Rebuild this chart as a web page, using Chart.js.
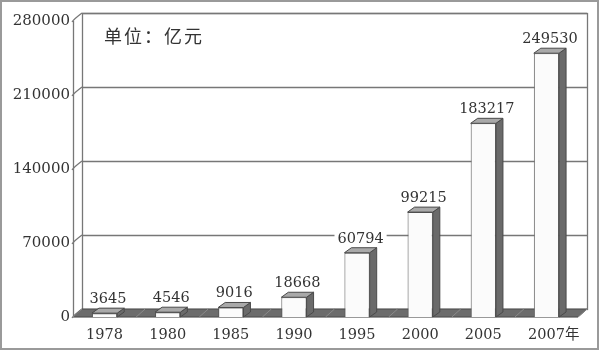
<!DOCTYPE html>
<html><head><meta charset="utf-8">
<script src="https://cdn.jsdelivr.net/npm/chart.js@4/dist/chart.umd.min.js"></script>
<style>html,body{margin:0;padding:0;background:#fff;} canvas{display:block;}</style>
</head><body>
<canvas id="c" width="600" height="351"></canvas>
<script>
const categories = ['1978','1980','1985','1990','1995','2000','2005','2007年'];
const values = [3645, 4546, 9016, 18668, 60794, 99215, 183217, 249530];
const yMin = 0, yMax = 280000, yStep = 70000;
const unitLabel = '单位：亿元';

const DX = 9, DY = 8;   // wall depth
const BX = 7, BY = 5;   // bar depth
const SERIF = "'DejaVu Serif', 'Noto Sans CJK SC', serif";
const TEXT = '#333';

const threeD = {
  id: 'threeD',
  beforeDraw(chart) {
    const ctx = chart.ctx;
    ctx.save();
    ctx.fillStyle = '#fff';
    ctx.fillRect(0, 0, chart.width, chart.height);
    ctx.strokeStyle = '#9a9a9a';
    ctx.lineWidth = 2;
    ctx.strokeRect(1, 1, chart.width - 3, chart.height - 3);
    ctx.restore();
  },
  beforeDatasetsDraw(chart) {
    const ctx = chart.ctx, a = chart.chartArea, ys = chart.scales.y, xs = chart.scales.x;
    const L = a.left, R = a.right, B = ys.getPixelForValue(yMin), T = ys.getPixelForValue(yMax);
    ctx.save();
    // back wall
    ctx.fillStyle = '#fff';
    ctx.strokeStyle = '#777';
    ctx.lineWidth = 1.3;
    ctx.fillRect(L + DX, T - DY, R - L, B - T);
    ctx.strokeRect(L + DX + 0.5, T - DY + 0.5, R - L, B - T);
    // left wall front edge
    ctx.beginPath();
    ctx.moveTo(L + 0.5, T); ctx.lineTo(L + 0.5, B);
    ctx.stroke();
    // grid lines
    for (let v = yMin + yStep; v <= yMax; v += yStep) {
      const yf = ys.getPixelForValue(v);
      const yb = Math.round(yf - DY) + 0.5;
      ctx.beginPath();
      ctx.moveTo(L + DX, yb); ctx.lineTo(R + DX, yb);
      ctx.stroke();
    }
    for (let v = yMin; v <= yMax; v += yStep) {
      const yf = ys.getPixelForValue(v);
      ctx.beginPath();
      ctx.moveTo(L - 1, yf + 1);
      ctx.quadraticCurveTo(L + 1, yf - 2, L + DX, yf - DY);
      ctx.stroke();
    }
    // floor
    ctx.beginPath();
    ctx.moveTo(L, B); ctx.lineTo(R, B); ctx.lineTo(R + DX, B - DY); ctx.lineTo(L + DX, B - DY);
    ctx.closePath();
    ctx.fillStyle = '#6c6c6c';
    ctx.fill();
    ctx.strokeStyle = '#4a4a4a';
    ctx.lineWidth = 1;
    ctx.stroke();
    ctx.beginPath();
    ctx.moveTo(L, B + 0.5); ctx.lineTo(R, B + 0.5);
    ctx.strokeStyle = '#999';
    ctx.stroke();
    // floor dividers at category boundaries
    ctx.strokeStyle = '#8a8a8a';
    for (let i = 0; i <= categories.length; i++) {
      const xb = (i === 0) ? L : (i === categories.length ? R : (xs.getPixelForValue(i - 1) + xs.getPixelForValue(i)) / 2);
      ctx.beginPath();
      ctx.moveTo(xb, B); ctx.lineTo(xb + DX, B - DY);
      ctx.stroke();
    }
    // unit label
    ctx.fillStyle = TEXT;
    ctx.font = "18px 'Noto Sans CJK SC'";
    try { ctx.letterSpacing = '2px'; } catch (e) {}
    ctx.textAlign = 'left';
    ctx.textBaseline = 'middle';
    ctx.fillText(unitLabel, 104, 36);
    try { ctx.letterSpacing = '0px'; } catch (e) {}
    ctx.restore();
  },
  afterDatasetsDraw(chart) {
    const ctx = chart.ctx, xs = chart.scales.x, ys = chart.scales.y;
    const meta = chart.getDatasetMeta(0);
    ctx.save();
    meta.data.forEach((bar, i) => {
      const x0 = bar.x - bar.width / 2, x1 = bar.x + bar.width / 2;
      const yt = bar.y, yb = bar.base;
      // side
      ctx.beginPath();
      ctx.moveTo(x1, yt); ctx.lineTo(x1 + BX, yt - BY); ctx.lineTo(x1 + BX, yb - BY); ctx.lineTo(x1, yb);
      ctx.closePath();
      ctx.fillStyle = '#6a6a6a';
      ctx.fill();
      ctx.strokeStyle = '#4a4a4a';
      ctx.lineWidth = 1;
      ctx.stroke();
      // top
      ctx.beginPath();
      ctx.moveTo(x0, yt); ctx.lineTo(x0 + BX, yt - BY); ctx.lineTo(x1 + BX, yt - BY); ctx.lineTo(x1, yt);
      ctx.closePath();
      ctx.fillStyle = '#a9a9a9';
      ctx.fill();
      ctx.stroke();
      // value label
      const txt = String(values[i]);
      ctx.font = '14.5px ' + SERIF;
      const w = ctx.measureText(txt).width;
      const cx = bar.x + BX / 2;
      const by = yt - BY - 5;
      ctx.fillStyle = '#fff';
      ctx.fillRect(cx - w / 2 - 3, by - 13, w + 6, 15);
      ctx.fillStyle = TEXT;
      ctx.textAlign = 'center';
      ctx.textBaseline = 'alphabetic';
      ctx.fillText(txt, cx, by);
    });
    // x labels
    ctx.font = '14.5px ' + SERIF;
    ctx.fillStyle = TEXT;
    ctx.textBaseline = 'middle';
    categories.forEach((c, i) => {
      const x = xs.getPixelForValue(i);
      const m = c.match(/^(\d+)(.*)$/);
      const num = m ? m[1] : c, suf = m ? m[2] : '';
      ctx.textAlign = 'center';
      ctx.fillText(num, x, 335);
      if (suf) {
        const w = ctx.measureText(num).width;
        ctx.textAlign = 'left';
        ctx.fillText(suf, x + w / 2, 335);
      }
    });
    ctx.restore();
  }
};

new Chart(document.getElementById('c'), {
  type: 'bar',
  data: {
    labels: categories,
    datasets: [{
      data: values,
      backgroundColor: '#fbfbfb',
      borderColor: '#555',
      borderWidth: 1,
      categoryPercentage: 1,
      barPercentage: 0.4
    }]
  },
  options: {
    responsive: false,
    devicePixelRatio: 1,
    animation: false,
    layout: { padding: { top: 21, right: 22, bottom: 34, left: 0 } },
    plugins: { legend: { display: false }, tooltip: { enabled: false } },
    scales: {
      x: { display: false, offset: true },
      y: {
        min: yMin, max: yMax,
        afterFit(s) { s.width = 73; },
        ticks: { stepSize: yStep, padding: 3, color: TEXT, font: { family: SERIF, size: 15 },
                 callback: (v) => String(v) },
        grid: { display: false, drawTicks: false },
        border: { display: false }
      }
    }
  },
  plugins: [threeD]
});
</script>
</body></html>
